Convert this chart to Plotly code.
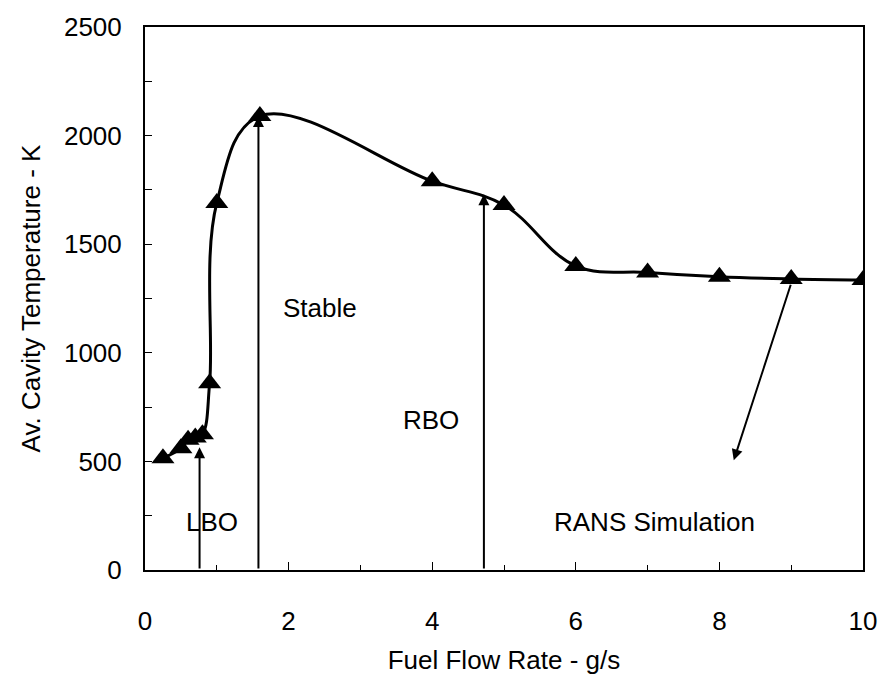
import plotly.graph_objects as go

# Data
flow_rate = [0.25, 0.5, 0.6, 0.7, 0.8, 0.9, 1.0, 1.6, 4.0, 5.0, 6.0, 7.0, 8.0, 9.0, 10.0]
cavity_temp = [515, 560, 600, 610, 625, 860, 1690, 2090, 1790, 1680, 1400, 1370, 1350, 1340, 1335]

# Annotation arrows: (x_tail, y_tail, x_head, y_head)
arrow_lbo = (0.76, 0, 0.76, 565)
arrow_stable = (1.58, 0, 1.58, 2090)
arrow_rbo = (4.72, 0, 4.72, 1730)
arrow_rans = (9.0, 1320, 8.2, 505)

labels = ["LBO", "Stable", "RBO", "RANS Simulation"]
label_x = [0.94, 2.44, 3.98, 7.09]
label_y = [222, 1205, 691, 222]

FONT = "Liberation Sans, Arial, sans-serif"
FS = 26

fig = go.Figure()
fig.add_trace(go.Scatter(
    x=flow_rate, y=cavity_temp, mode="lines+markers",
    line=dict(color="black", width=3, shape="spline", smoothing=1.1),
    marker=dict(symbol="triangle-up", size=20, color="black"),
    showlegend=False, hoverinfo="x+y",
))

annotations = []
for (x0, y0, x1, y1) in [arrow_lbo, arrow_stable, arrow_rbo, arrow_rans]:
    annotations.append(dict(
        x=x1, y=y1, ax=x0, ay=y0, xref="x", yref="y", axref="x", ayref="y",
        text="", showarrow=True, arrowhead=2, arrowsize=1.1, arrowwidth=2,
        arrowcolor="black", standoff=0, startstandoff=0,
    ))
for t, lx, ly in zip(labels, label_x, label_y):
    annotations.append(dict(
        x=lx, y=ly, xref="x", yref="y", text=t, showarrow=False,
        font=dict(family=FONT, size=FS, color="black"),
        xanchor="center", yanchor="middle",
    ))

fig.update_layout(
    width=889, height=683,
    margin=dict(l=145, r=20, t=20, b=113),
    paper_bgcolor="white", plot_bgcolor="white",
    font=dict(family=FONT, size=FS, color="black"),
    annotations=annotations,
    xaxis=dict(
        range=[0, 10], tickvals=[0, 2, 4, 6, 8, 10], ticks="inside", ticklen=8,
        tickwidth=1, tickcolor="black", tickfont=dict(size=FS),
        minor=dict(tickvals=[1, 3, 5, 7, 9], ticks="inside", ticklen=5, tickcolor="black"),
        showgrid=False, zeroline=False, showline=True, linecolor="black", linewidth=2,
        mirror=True, ticklabelstandoff=27,
        title=dict(text="Fuel Flow Rate - g/s", standoff=16, font=dict(size=FS)),
    ),
    yaxis=dict(
        range=[0, 2500], tickvals=[0, 500, 1000, 1500, 2000, 2500], ticks="inside",
        ticklen=7, tickwidth=1, tickcolor="black", tickfont=dict(size=FS),
        minor=dict(tickvals=[250, 750, 1250, 1750, 2250], ticks="inside", ticklen=7,
                   tickcolor="black"),
        showgrid=False, zeroline=False, showline=True, linecolor="black", linewidth=2,
        mirror=True, ticklabelstandoff=16,
        title=dict(text="Av. Cavity Temperature - K", standoff=16, font=dict(size=FS)),
    ),
)

fig.write_html("out.html")
